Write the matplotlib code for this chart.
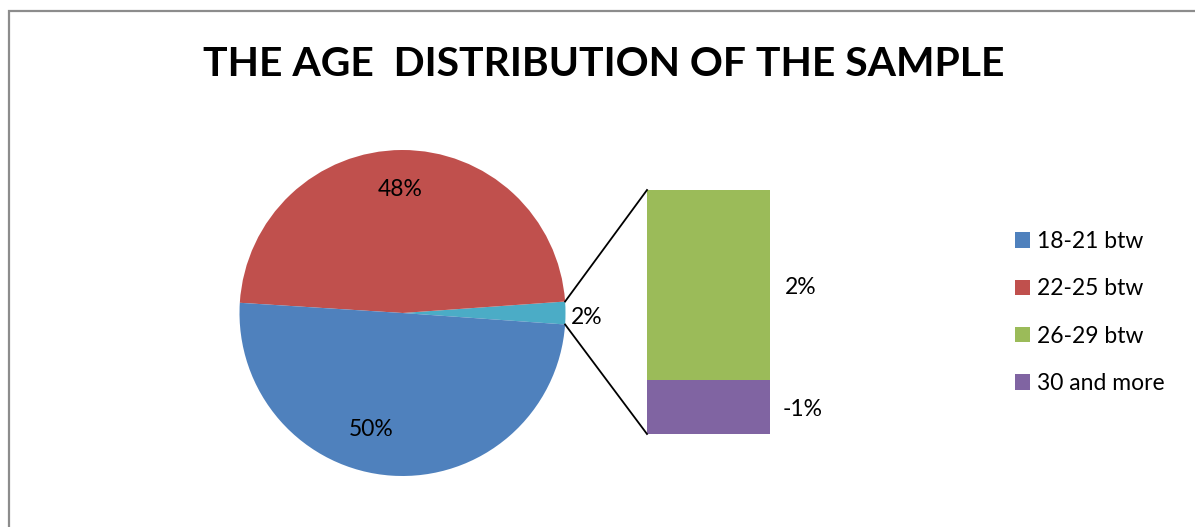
import matplotlib
matplotlib.use("Agg")
import matplotlib.pyplot as plt
from matplotlib.patches import Patch, Rectangle
from matplotlib.lines import Line2D
import numpy as np
import math

# ---- data ----
title = "THE AGE  DISTRIBUTION OF THE SAMPLE"
categories = ["18-21 btw", "22-25 btw", "26-29 btw", "30 and more"]
values = [50.0, 48.0, 1.75, -0.5]          # percent
colors = ["#4F81BD", "#C0504D", "#9BBB59", "#8064A2"]
other_color = "#4BACC6"

def xl_pct(v):
    r = math.floor(abs(v) + 0.5)
    return ("-" if v < 0 else "") + f"{r}%"

plt.rcParams['font.family'] = ['Lato', 'DejaVu Sans']

W, H = 1195, 527
fig = plt.figure(figsize=(W / 100, H / 100), dpi=100)
ax = fig.add_axes([0, 0, 1, 1])

# border of chart area
fig.patches.append(Rectangle((8.5 / W, -0.1), 1.2, (H - 10.5) / H + 0.1,
                             transform=fig.transFigure, fill=False,
                             edgecolor="#8C8C8C", linewidth=1.6))

# ---- main pie ----
other = sum(abs(v) for v in values[2:])
pie_vals = [other, values[1], values[0]]
pie_cols = [other_color, colors[1], colors[0]]
total = sum(pie_vals)
cx, cy, R = 402.5, 214.0, 163.0
half = other / total * 360 / 2
wedges, _ = ax.pie(pie_vals, colors=pie_cols, center=(cx, cy), radius=R,
                   startangle=-half, counterclock=True, frame=True,
                   wedgeprops=dict(linewidth=0))
ax.set_xlim(0, W)
ax.set_ylim(0, H)
ax.set_aspect('equal')
ax.axis('off')

fs = 16.5
dy = -3  # small baseline correction
# pie labels
ax.text(400, H - 186 + dy, xl_pct(values[1]), ha='center', va='center', fontsize=fs)
ax.text(371, H - 427 + dy, xl_pct(values[0]), ha='center', va='center', fontsize=fs)
ax.text(587, H - 314 + dy, xl_pct(other), ha='center', va='center', fontsize=fs)

# ---- secondary bar ----
bx, bw = 708.5, 123
bbot, btop = H - 434, H - 190
scale = (btop - bbot) / other
h_purple = abs(values[3]) * scale
h_green = abs(values[2]) * scale
ax.bar([bx], [h_purple], bottom=[bbot], width=bw, color=colors[3], linewidth=0)
ax.bar([bx], [h_green], bottom=[bbot + h_purple], width=bw, color=colors[2], linewidth=0)
ax.text(801, bbot + h_purple + h_green / 2 + dy, xl_pct(values[2]), ha='center', va='center', fontsize=fs)
ax.text(803, bbot + h_purple / 2 + dy, xl_pct(values[3]), ha='center', va='center', fontsize=fs)

# connector lines
a1, a2 = math.radians(half), math.radians(-half)
ax.add_line(Line2D([cx + R * math.cos(a1), bx - bw / 2], [cy + R * math.sin(a1), btop],
                   color='black', linewidth=1.3))
ax.add_line(Line2D([cx + R * math.cos(a2), bx - bw / 2], [cy + R * math.sin(a2), bbot],
                   color='black', linewidth=1.3))

# title
ax.text(604, H - 64, title, ha='center', va='center', fontsize=29.4, fontweight='bold')

# legend
handles = [Patch(facecolor=c, edgecolor='none') for c in colors]
leg = ax.legend(handles, categories, loc='upper left',
                bbox_to_anchor=(1015 / W, (H - 231) / H), bbox_transform=fig.transFigure,
                frameon=False, fontsize=fs, handlelength=0.65, handleheight=0.65,
                handletextpad=0.3, labelspacing=1.15, borderpad=0, borderaxespad=0)

fig.savefig("out.png", dpi=100)
